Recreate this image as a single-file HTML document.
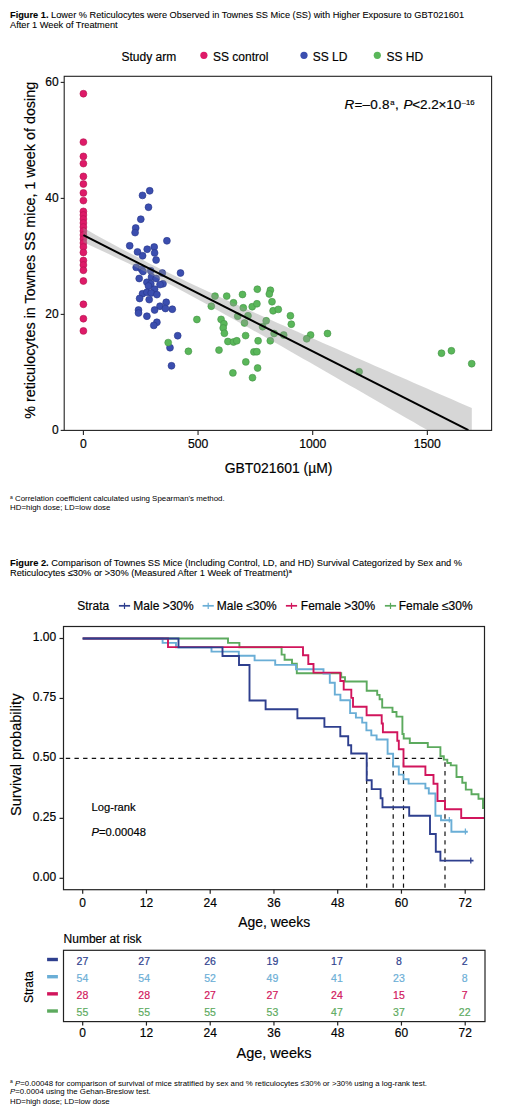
<!DOCTYPE html><html><head><meta charset="utf-8"><style>html,body{margin:0;padding:0;background:#fff;overflow:hidden;width:520px;height:1113px}svg{display:block}text{font-family:"Liberation Sans",sans-serif;fill:#000;stroke:#000;stroke-width:0.18px;paint-order:stroke}text.t{stroke-width:0.08px}text.f{stroke-width:0px}</style></head><body>
<svg width="520" height="1113" viewBox="0 0 520 1113">
<rect width="520" height="1113" fill="#fff"/>
<text class="t" x="10" y="18" font-size="9.24"><tspan font-weight="bold">Figure 1.</tspan> Lower % Reticulocytes were Observed in Townes SS Mice (SS) with Higher Exposure to GBT021601</text>
<text class="t" x="10" y="28.3" font-size="9.24">After 1 Week of Treatment</text>
<text x="121.5" y="61" font-size="12">Study arm</text>
<circle cx="203.9" cy="55.3" r="3.6" fill="#DE1A68"/>
<text x="213" y="61" font-size="12">SS control</text>
<circle cx="304" cy="55.3" r="3.6" fill="#3B4EAF"/>
<text x="312.7" y="61" font-size="12">SS LD</text>
<circle cx="377.3" cy="55.3" r="3.6" fill="#5AB75A"/>
<text x="386.5" y="61" font-size="12">SS HD</text>
<defs><clipPath id="c1"><rect x="64.2" y="76.3" width="427.4" height="354.1"/></clipPath></defs>
<circle cx="83.4" cy="93.7" r="3.45" fill="#DE1A68" stroke="#B3124F" stroke-width="0.6"/>
<circle cx="83.4" cy="142.1" r="3.45" fill="#DE1A68" stroke="#B3124F" stroke-width="0.6"/>
<circle cx="83.4" cy="156.4" r="3.45" fill="#DE1A68" stroke="#B3124F" stroke-width="0.6"/>
<circle cx="83.4" cy="163.6" r="3.45" fill="#DE1A68" stroke="#B3124F" stroke-width="0.6"/>
<circle cx="83.4" cy="176.4" r="3.45" fill="#DE1A68" stroke="#B3124F" stroke-width="0.6"/>
<circle cx="83.4" cy="184" r="3.45" fill="#DE1A68" stroke="#B3124F" stroke-width="0.6"/>
<circle cx="83.4" cy="192.9" r="3.45" fill="#DE1A68" stroke="#B3124F" stroke-width="0.6"/>
<circle cx="83.4" cy="200.6" r="3.45" fill="#DE1A68" stroke="#B3124F" stroke-width="0.6"/>
<circle cx="83.4" cy="211.4" r="3.45" fill="#DE1A68" stroke="#B3124F" stroke-width="0.6"/>
<circle cx="83.4" cy="215" r="3.45" fill="#DE1A68" stroke="#B3124F" stroke-width="0.6"/>
<circle cx="83.4" cy="219" r="3.45" fill="#DE1A68" stroke="#B3124F" stroke-width="0.6"/>
<circle cx="83.4" cy="223" r="3.45" fill="#DE1A68" stroke="#B3124F" stroke-width="0.6"/>
<circle cx="83.4" cy="227" r="3.45" fill="#DE1A68" stroke="#B3124F" stroke-width="0.6"/>
<circle cx="83.4" cy="231" r="3.45" fill="#DE1A68" stroke="#B3124F" stroke-width="0.6"/>
<circle cx="83.4" cy="235" r="3.45" fill="#DE1A68" stroke="#B3124F" stroke-width="0.6"/>
<circle cx="83.4" cy="239" r="3.45" fill="#DE1A68" stroke="#B3124F" stroke-width="0.6"/>
<circle cx="83.4" cy="243" r="3.45" fill="#DE1A68" stroke="#B3124F" stroke-width="0.6"/>
<circle cx="83.4" cy="247" r="3.45" fill="#DE1A68" stroke="#B3124F" stroke-width="0.6"/>
<circle cx="83.4" cy="252.5" r="3.45" fill="#DE1A68" stroke="#B3124F" stroke-width="0.6"/>
<circle cx="83.4" cy="260.5" r="3.45" fill="#DE1A68" stroke="#B3124F" stroke-width="0.6"/>
<circle cx="83.4" cy="265" r="3.45" fill="#DE1A68" stroke="#B3124F" stroke-width="0.6"/>
<circle cx="83.4" cy="270.3" r="3.45" fill="#DE1A68" stroke="#B3124F" stroke-width="0.6"/>
<circle cx="83.4" cy="281" r="3.45" fill="#DE1A68" stroke="#B3124F" stroke-width="0.6"/>
<circle cx="83.4" cy="304.3" r="3.45" fill="#DE1A68" stroke="#B3124F" stroke-width="0.6"/>
<circle cx="83.4" cy="318.7" r="3.45" fill="#DE1A68" stroke="#B3124F" stroke-width="0.6"/>
<circle cx="83.4" cy="330.9" r="3.45" fill="#DE1A68" stroke="#B3124F" stroke-width="0.6"/>
<circle cx="149.7" cy="190.8" r="3.45" fill="#3B4EAF" stroke="#27358A" stroke-width="0.6"/>
<circle cx="142.5" cy="195.4" r="3.45" fill="#3B4EAF" stroke="#27358A" stroke-width="0.6"/>
<circle cx="148.5" cy="207.2" r="3.45" fill="#3B4EAF" stroke="#27358A" stroke-width="0.6"/>
<circle cx="140.8" cy="219.2" r="3.45" fill="#3B4EAF" stroke="#27358A" stroke-width="0.6"/>
<circle cx="135.7" cy="228" r="3.45" fill="#3B4EAF" stroke="#27358A" stroke-width="0.6"/>
<circle cx="135.1" cy="232.6" r="3.45" fill="#3B4EAF" stroke="#27358A" stroke-width="0.6"/>
<circle cx="166.9" cy="240.8" r="3.45" fill="#3B4EAF" stroke="#27358A" stroke-width="0.6"/>
<circle cx="129.7" cy="245.8" r="3.45" fill="#3B4EAF" stroke="#27358A" stroke-width="0.6"/>
<circle cx="137.5" cy="251.9" r="3.45" fill="#3B4EAF" stroke="#27358A" stroke-width="0.6"/>
<circle cx="142.6" cy="255.8" r="3.45" fill="#3B4EAF" stroke="#27358A" stroke-width="0.6"/>
<circle cx="147.2" cy="249.2" r="3.45" fill="#3B4EAF" stroke="#27358A" stroke-width="0.6"/>
<circle cx="154.2" cy="247" r="3.45" fill="#3B4EAF" stroke="#27358A" stroke-width="0.6"/>
<circle cx="154.6" cy="253" r="3.45" fill="#3B4EAF" stroke="#27358A" stroke-width="0.6"/>
<circle cx="156.1" cy="260" r="3.45" fill="#3B4EAF" stroke="#27358A" stroke-width="0.6"/>
<circle cx="136.2" cy="267.4" r="3.45" fill="#3B4EAF" stroke="#27358A" stroke-width="0.6"/>
<circle cx="141.5" cy="269.2" r="3.45" fill="#3B4EAF" stroke="#27358A" stroke-width="0.6"/>
<circle cx="143" cy="271.5" r="3.45" fill="#3B4EAF" stroke="#27358A" stroke-width="0.6"/>
<circle cx="150.8" cy="270.8" r="3.45" fill="#3B4EAF" stroke="#27358A" stroke-width="0.6"/>
<circle cx="162.3" cy="273" r="3.45" fill="#3B4EAF" stroke="#27358A" stroke-width="0.6"/>
<circle cx="180.5" cy="273" r="3.45" fill="#3B4EAF" stroke="#27358A" stroke-width="0.6"/>
<circle cx="139.2" cy="278.5" r="3.45" fill="#3B4EAF" stroke="#27358A" stroke-width="0.6"/>
<circle cx="151.5" cy="277" r="3.45" fill="#3B4EAF" stroke="#27358A" stroke-width="0.6"/>
<circle cx="156.2" cy="278.5" r="3.45" fill="#3B4EAF" stroke="#27358A" stroke-width="0.6"/>
<circle cx="146.9" cy="282.3" r="3.45" fill="#3B4EAF" stroke="#27358A" stroke-width="0.6"/>
<circle cx="150.8" cy="283.8" r="3.45" fill="#3B4EAF" stroke="#27358A" stroke-width="0.6"/>
<circle cx="163" cy="283.8" r="3.45" fill="#3B4EAF" stroke="#27358A" stroke-width="0.6"/>
<circle cx="160" cy="284.6" r="3.45" fill="#3B4EAF" stroke="#27358A" stroke-width="0.6"/>
<circle cx="148.5" cy="286" r="3.45" fill="#3B4EAF" stroke="#27358A" stroke-width="0.6"/>
<circle cx="154.6" cy="289.2" r="3.45" fill="#3B4EAF" stroke="#27358A" stroke-width="0.6"/>
<circle cx="142.5" cy="293.8" r="3.45" fill="#3B4EAF" stroke="#27358A" stroke-width="0.6"/>
<circle cx="146.9" cy="292.3" r="3.45" fill="#3B4EAF" stroke="#27358A" stroke-width="0.6"/>
<circle cx="151.2" cy="293" r="3.45" fill="#3B4EAF" stroke="#27358A" stroke-width="0.6"/>
<circle cx="156.9" cy="294.6" r="3.45" fill="#3B4EAF" stroke="#27358A" stroke-width="0.6"/>
<circle cx="139.6" cy="298.5" r="3.45" fill="#3B4EAF" stroke="#27358A" stroke-width="0.6"/>
<circle cx="149.2" cy="299.6" r="3.45" fill="#3B4EAF" stroke="#27358A" stroke-width="0.6"/>
<circle cx="166.2" cy="302.3" r="3.45" fill="#3B4EAF" stroke="#27358A" stroke-width="0.6"/>
<circle cx="160" cy="306.2" r="3.45" fill="#3B4EAF" stroke="#27358A" stroke-width="0.6"/>
<circle cx="165.4" cy="308.5" r="3.45" fill="#3B4EAF" stroke="#27358A" stroke-width="0.6"/>
<circle cx="172.3" cy="309.2" r="3.45" fill="#3B4EAF" stroke="#27358A" stroke-width="0.6"/>
<circle cx="154.6" cy="310" r="3.45" fill="#3B4EAF" stroke="#27358A" stroke-width="0.6"/>
<circle cx="138.5" cy="310" r="3.45" fill="#3B4EAF" stroke="#27358A" stroke-width="0.6"/>
<circle cx="138.5" cy="313" r="3.45" fill="#3B4EAF" stroke="#27358A" stroke-width="0.6"/>
<circle cx="146.9" cy="316.2" r="3.45" fill="#3B4EAF" stroke="#27358A" stroke-width="0.6"/>
<circle cx="156.9" cy="322.3" r="3.45" fill="#3B4EAF" stroke="#27358A" stroke-width="0.6"/>
<circle cx="153.8" cy="325.4" r="3.45" fill="#3B4EAF" stroke="#27358A" stroke-width="0.6"/>
<circle cx="177.7" cy="335.7" r="3.45" fill="#3B4EAF" stroke="#27358A" stroke-width="0.6"/>
<circle cx="170" cy="347.7" r="3.45" fill="#3B4EAF" stroke="#27358A" stroke-width="0.6"/>
<circle cx="171.5" cy="365.8" r="3.45" fill="#3B4EAF" stroke="#27358A" stroke-width="0.6"/>
<circle cx="168.2" cy="342.6" r="3.45" fill="#5AB75A" stroke="#449246" stroke-width="0.6"/>
<circle cx="188.4" cy="351.3" r="3.45" fill="#5AB75A" stroke="#449246" stroke-width="0.6"/>
<circle cx="196.9" cy="319.5" r="3.45" fill="#5AB75A" stroke="#449246" stroke-width="0.6"/>
<circle cx="215" cy="296.1" r="3.45" fill="#5AB75A" stroke="#449246" stroke-width="0.6"/>
<circle cx="226.7" cy="296.1" r="3.45" fill="#5AB75A" stroke="#449246" stroke-width="0.6"/>
<circle cx="242.5" cy="294.5" r="3.45" fill="#5AB75A" stroke="#449246" stroke-width="0.6"/>
<circle cx="257.3" cy="289.2" r="3.45" fill="#5AB75A" stroke="#449246" stroke-width="0.6"/>
<circle cx="270.4" cy="290.2" r="3.45" fill="#5AB75A" stroke="#449246" stroke-width="0.6"/>
<circle cx="269.3" cy="294" r="3.45" fill="#5AB75A" stroke="#449246" stroke-width="0.6"/>
<circle cx="211.3" cy="306.2" r="3.45" fill="#5AB75A" stroke="#449246" stroke-width="0.6"/>
<circle cx="233.5" cy="302.8" r="3.45" fill="#5AB75A" stroke="#449246" stroke-width="0.6"/>
<circle cx="243.3" cy="307.8" r="3.45" fill="#5AB75A" stroke="#449246" stroke-width="0.6"/>
<circle cx="252.2" cy="306.7" r="3.45" fill="#5AB75A" stroke="#449246" stroke-width="0.6"/>
<circle cx="256.9" cy="303.8" r="3.45" fill="#5AB75A" stroke="#449246" stroke-width="0.6"/>
<circle cx="272" cy="301.7" r="3.45" fill="#5AB75A" stroke="#449246" stroke-width="0.6"/>
<circle cx="273.1" cy="310.8" r="3.45" fill="#5AB75A" stroke="#449246" stroke-width="0.6"/>
<circle cx="278.3" cy="309.4" r="3.45" fill="#5AB75A" stroke="#449246" stroke-width="0.6"/>
<circle cx="221.1" cy="319.4" r="3.45" fill="#5AB75A" stroke="#449246" stroke-width="0.6"/>
<circle cx="223.9" cy="323.8" r="3.45" fill="#5AB75A" stroke="#449246" stroke-width="0.6"/>
<circle cx="223.2" cy="328" r="3.45" fill="#5AB75A" stroke="#449246" stroke-width="0.6"/>
<circle cx="224.4" cy="333.3" r="3.45" fill="#5AB75A" stroke="#449246" stroke-width="0.6"/>
<circle cx="237.7" cy="316.2" r="3.45" fill="#5AB75A" stroke="#449246" stroke-width="0.6"/>
<circle cx="248" cy="315.8" r="3.45" fill="#5AB75A" stroke="#449246" stroke-width="0.6"/>
<circle cx="244.5" cy="323" r="3.45" fill="#5AB75A" stroke="#449246" stroke-width="0.6"/>
<circle cx="266.2" cy="320.8" r="3.45" fill="#5AB75A" stroke="#449246" stroke-width="0.6"/>
<circle cx="262.6" cy="326.7" r="3.45" fill="#5AB75A" stroke="#449246" stroke-width="0.6"/>
<circle cx="274.1" cy="333.5" r="3.45" fill="#5AB75A" stroke="#449246" stroke-width="0.6"/>
<circle cx="245.6" cy="335.6" r="3.45" fill="#5AB75A" stroke="#449246" stroke-width="0.6"/>
<circle cx="227.9" cy="341.5" r="3.45" fill="#5AB75A" stroke="#449246" stroke-width="0.6"/>
<circle cx="233.5" cy="342" r="3.45" fill="#5AB75A" stroke="#449246" stroke-width="0.6"/>
<circle cx="236.8" cy="340.8" r="3.45" fill="#5AB75A" stroke="#449246" stroke-width="0.6"/>
<circle cx="258.1" cy="340.8" r="3.45" fill="#5AB75A" stroke="#449246" stroke-width="0.6"/>
<circle cx="270.3" cy="340.8" r="3.45" fill="#5AB75A" stroke="#449246" stroke-width="0.6"/>
<circle cx="219" cy="350.1" r="3.45" fill="#5AB75A" stroke="#449246" stroke-width="0.6"/>
<circle cx="253.9" cy="351.9" r="3.45" fill="#5AB75A" stroke="#449246" stroke-width="0.6"/>
<circle cx="256.9" cy="351.7" r="3.45" fill="#5AB75A" stroke="#449246" stroke-width="0.6"/>
<circle cx="245.8" cy="361.9" r="3.45" fill="#5AB75A" stroke="#449246" stroke-width="0.6"/>
<circle cx="257.6" cy="368" r="3.45" fill="#5AB75A" stroke="#449246" stroke-width="0.6"/>
<circle cx="232.9" cy="372.9" r="3.45" fill="#5AB75A" stroke="#449246" stroke-width="0.6"/>
<circle cx="252.5" cy="377.7" r="3.45" fill="#5AB75A" stroke="#449246" stroke-width="0.6"/>
<circle cx="290.4" cy="315.8" r="3.45" fill="#5AB75A" stroke="#449246" stroke-width="0.6"/>
<circle cx="291.3" cy="324.2" r="3.45" fill="#5AB75A" stroke="#449246" stroke-width="0.6"/>
<circle cx="283.7" cy="335" r="3.45" fill="#5AB75A" stroke="#449246" stroke-width="0.6"/>
<circle cx="310.6" cy="335" r="3.45" fill="#5AB75A" stroke="#449246" stroke-width="0.6"/>
<circle cx="306.7" cy="338.8" r="3.45" fill="#5AB75A" stroke="#449246" stroke-width="0.6"/>
<circle cx="327.5" cy="333.5" r="3.45" fill="#5AB75A" stroke="#449246" stroke-width="0.6"/>
<circle cx="359.1" cy="371.7" r="3.45" fill="#5AB75A" stroke="#449246" stroke-width="0.6"/>
<circle cx="441.5" cy="353.2" r="3.45" fill="#5AB75A" stroke="#449246" stroke-width="0.6"/>
<circle cx="451.4" cy="350.8" r="3.45" fill="#5AB75A" stroke="#449246" stroke-width="0.6"/>
<circle cx="471.7" cy="363.7" r="3.45" fill="#5AB75A" stroke="#449246" stroke-width="0.6"/>
<g clip-path="url(#c1)">
<polygon fill="#999999" fill-opacity="0.4" points="83.4,228.0 89.9,231.6 96.3,235.2 102.8,238.7 109.3,242.2 115.8,245.7 122.2,249.2 128.7,252.6 135.2,256.0 141.7,259.3 148.1,262.7 154.6,265.9 161.1,269.2 167.6,272.3 174.0,275.5 180.5,278.6 187.0,281.7 193.4,284.7 199.9,287.8 206.4,290.8 212.9,293.8 219.3,296.7 225.8,299.7 232.3,302.6 238.8,305.6 245.2,308.5 251.7,311.4 258.2,314.3 264.7,317.2 271.1,320.0 277.6,322.9 284.1,325.8 290.5,328.7 297.0,331.5 303.5,334.4 310.0,337.2 316.4,340.1 322.9,342.9 329.4,345.8 335.9,348.6 342.3,351.5 348.8,354.3 355.3,357.2 361.8,360.0 368.2,362.8 374.7,365.7 381.2,368.5 387.6,371.3 394.1,374.2 400.6,377.0 407.1,379.8 413.5,382.7 420.0,385.5 426.5,388.3 433.0,391.2 439.4,394.0 445.9,396.8 452.4,399.6 458.9,402.5 465.3,405.3 471.8,408.1 471.8,455.7 465.3,452.0 458.9,448.2 452.4,444.5 445.9,440.8 439.4,437.0 433.0,433.3 426.5,429.6 420.0,425.9 413.5,422.1 407.1,418.4 400.6,414.7 394.1,410.9 387.6,407.2 381.2,403.5 374.7,399.8 368.2,396.0 361.8,392.3 355.3,388.6 348.8,384.9 342.3,381.2 335.9,377.5 329.4,373.7 322.9,370.0 316.4,366.3 310.0,362.6 303.5,358.9 297.0,355.2 290.5,351.5 284.1,347.8 277.6,344.1 271.1,340.5 264.7,336.8 258.2,333.1 251.7,329.5 245.2,325.8 238.8,322.2 232.3,318.5 225.8,314.9 219.3,311.3 212.9,307.7 206.4,304.1 199.9,300.6 193.4,297.0 187.0,293.5 180.5,290.1 174.0,286.6 167.6,283.2 161.1,279.9 154.6,276.5 148.1,273.2 141.7,270.0 135.2,266.8 128.7,263.6 122.2,260.5 115.8,257.4 109.3,254.3 102.8,251.3 96.3,248.3 89.9,245.3 83.4,242.3"/>
</g>
<line x1="83.4" y1="235.2" x2="468.4" y2="430.2" stroke="#000" stroke-width="2"/>
<rect x="64.2" y="76.3" width="427.40000000000003" height="354.09999999999997" fill="none" stroke="#222" stroke-width="1.1"/>
<line x1="60.7" y1="430.4" x2="64.2" y2="430.4" stroke="#222" stroke-width="1.1"/>
<text x="58.6" y="434.4" font-size="12" text-anchor="end">0</text>
<line x1="60.7" y1="314.4" x2="64.2" y2="314.4" stroke="#222" stroke-width="1.1"/>
<text x="58.6" y="318.4" font-size="12" text-anchor="end">20</text>
<line x1="60.7" y1="198.39999999999998" x2="64.2" y2="198.39999999999998" stroke="#222" stroke-width="1.1"/>
<text x="58.6" y="202.39999999999998" font-size="12" text-anchor="end">40</text>
<line x1="60.7" y1="82.39999999999998" x2="64.2" y2="82.39999999999998" stroke="#222" stroke-width="1.1"/>
<text x="58.6" y="86.39999999999998" font-size="12" text-anchor="end">60</text>
<line x1="83.4" y1="430.4" x2="83.4" y2="435.09999999999997" stroke="#222" stroke-width="1.1"/>
<text x="83.4" y="447.8" font-size="12.2" text-anchor="middle">0</text>
<line x1="198.05" y1="430.4" x2="198.05" y2="435.09999999999997" stroke="#222" stroke-width="1.1"/>
<text x="198.05" y="447.8" font-size="12.2" text-anchor="middle">500</text>
<line x1="312.70000000000005" y1="430.4" x2="312.70000000000005" y2="435.09999999999997" stroke="#222" stroke-width="1.1"/>
<text x="312.70000000000005" y="447.8" font-size="12.2" text-anchor="middle">1000</text>
<line x1="427.35" y1="430.4" x2="427.35" y2="435.09999999999997" stroke="#222" stroke-width="1.1"/>
<text x="427.35" y="447.8" font-size="12.2" text-anchor="middle">1500</text>
<text x="278.6" y="472.9" font-size="13.9" text-anchor="middle">GBT021601 (µM)</text>
<text transform="translate(34.8,250.3) rotate(-90)" font-size="14.35" text-anchor="middle">% reticulocytes in Townes SS mice, 1 week of dosing</text>
<text x="344.4" y="109" font-size="13.5" letter-spacing="0.25"><tspan font-style="italic">R</tspan>=–0.8</text>
<text x="390.2" y="104.5" font-size="7.7">a</text>
<text x="395" y="109" font-size="13.5">,</text>
<text x="403.4" y="109" font-size="13.5" letter-spacing="-0.1"><tspan font-style="italic">P</tspan>&lt;2.2×10</text>
<text x="461.8" y="104.5" font-size="7.7">–16</text>
<text class="f" x="10" y="501" font-size="7.9"><tspan font-size="5" dy="-2.5">a</tspan><tspan dy="2.5"> Correlation coefficient calculated using Spearman's method.</tspan></text>
<text class="f" x="10" y="510" font-size="7.9">HD=high dose; LD=low dose</text>
<text class="t" x="10" y="565.8" font-size="9.27"><tspan font-weight="bold">Figure 2.</tspan> Comparison of Townes SS Mice (Including Control, LD, and HD) Survival Categorized by Sex and %</text>
<text class="t" x="10" y="575.8" font-size="9.27">Reticulocytes ≤30% or &gt;30% (Measured After 1 Week of Treatment)<tspan font-size="5.5" dy="-3">a</tspan></text>
<text x="77.2" y="609.8" font-size="12">Strata</text>
<line x1="118.9" y1="605.8" x2="130.1" y2="605.8" stroke="#2E3F8E" stroke-width="1.7"/>
<line x1="124.5" y1="602.8" x2="124.5" y2="609" stroke="#2E3F8E" stroke-width="1.2"/>
<text x="133.3" y="609.8" font-size="12">Male &gt;30%</text>
<line x1="202.6" y1="605.8" x2="213.79999999999998" y2="605.8" stroke="#6AAED6" stroke-width="1.7"/>
<line x1="208.2" y1="602.8" x2="208.2" y2="609" stroke="#6AAED6" stroke-width="1.2"/>
<text x="216.8" y="609.8" font-size="12">Male ≤30%</text>
<line x1="285.9" y1="605.8" x2="297.1" y2="605.8" stroke="#D1155C" stroke-width="1.7"/>
<line x1="291.5" y1="602.8" x2="291.5" y2="609" stroke="#D1155C" stroke-width="1.2"/>
<text x="300.8" y="609.8" font-size="12">Female &gt;30%</text>
<line x1="384.9" y1="605.8" x2="396.1" y2="605.8" stroke="#5CAA5E" stroke-width="1.7"/>
<line x1="390.5" y1="602.8" x2="390.5" y2="609" stroke="#5CAA5E" stroke-width="1.2"/>
<text x="398.7" y="609.8" font-size="12">Female ≤30%</text>
<line x1="63.5" y1="758.3" x2="445" y2="758.3" stroke="#111" stroke-width="1.2" stroke-dasharray="4.4,4.25" stroke-dashoffset="6.35"/>
<line x1="366.7" y1="758.3" x2="366.7" y2="889.7" stroke="#111" stroke-width="1.2" stroke-dasharray="4.4,4.25" stroke-dashoffset="4.6"/>
<line x1="393.2" y1="758.3" x2="393.2" y2="889.7" stroke="#111" stroke-width="1.2" stroke-dasharray="4.4,4.25" stroke-dashoffset="4.6"/>
<line x1="403.5" y1="758.3" x2="403.5" y2="889.7" stroke="#111" stroke-width="1.2" stroke-dasharray="4.4,4.25" stroke-dashoffset="4.6"/>
<line x1="445" y1="758.3" x2="445" y2="889.7" stroke="#111" stroke-width="1.2" stroke-dasharray="4.4,4.25" stroke-dashoffset="4.6"/>
<defs><clipPath id="c2"><rect x="63.5" y="626.5" width="421.0" height="263.2"/></clipPath></defs>
<g clip-path="url(#c2)" fill="none" stroke-width="1.9" stroke-linejoin="miter" stroke-linecap="butt">
<path d="M82.7,638.5 H228.0 V642.9 H239.4 V647.2 H281.6 V654.6 H284.6 V659.8 H292.0 V663.8 H296.8 V673.2 H341.2 V677.2 H345.0 V681.5 H366.7 V690.8 H377.2 V694.9 H379.6 V699.2 H382.2 V707.6 H392.5 V712.0 H396.5 V716.6 H402.4 V734.0 H403.7 V738.5 H409.8 V743.0 H427.8 V747.1 H440.4 V756.2 H443.8 V759.6 H447.3 V763.0 H450.8 V765.4 H456.5 V777.0 H462.3 V782.7 H465.8 V789.6 H471.5 V794.2 H478.5 V798.8 H483.0 V808.0 H486.0" stroke="#5CAA5E"/>
<path d="M82.7,638.5 H162.6 V642.9 H176.0 V647.4 H211.5 V651.6 H238.8 V655.8 H254.6 V660.4 H275.2 V664.9 H296.0 V669.3 H323.5 V673.6 H329.8 V682.7 H334.8 V694.6 H340.4 V700.2 H350.1 V713.1 H355.9 V717.6 H362.2 V722.6 H366.4 V730.4 H371.3 V735.4 H376.6 V739.5 H387.6 V753.8 H393.1 V766.5 H398.8 V774.6 H403.5 V779.2 H408.6 V783.6 H425.4 V788.2 H428.8 V793.5 H435.4 V815.8 H441.0 V820.2 H451.4 V831.8 H467.8" stroke="#6AAED6"/>
<path d="M82.7,638.5 H168.0 V647.1 H303.0 V655.2 H308.3 V664.0 H313.5 V672.6 H340.3 V681.0 H343.7 V689.6 H351.3 V697.9 H353.0 V706.7 H366.6 V715.2 H381.7 V723.5 H382.9 V732.2 H397.3 V740.8 H398.8 V749.2 H403.5 V766.5 H425.4 V775.0 H433.5 V783.7 H437.5 V801.0 H445.0 V809.3 H461.2 V818.0 H486.0" stroke="#D1155C"/>
<path d="M82.7,638.5 H178.5 V647.4 H222.5 V656.0 H239.0 V665.0 H249.5 V700.5 H265.6 V709.2 H297.4 V718.3 H324.4 V726.9 H340.3 V736.2 H348.2 V745.2 H351.2 V753.5 H366.7 V780.2 H371.7 V789.1 H380.6 V798.2 H382.5 V807.2 H409.2 V815.8 H430.0 V834.0 H435.8 V851.7 H440.4 V860.6 H473.5" stroke="#2E3F8E"/>
<line x1="465.4" y1="828.4" x2="465.4" y2="834.6" stroke="#6AAED6" stroke-width="1.3"/>
<line x1="449.3" y1="817" x2="449.3" y2="822.5" stroke="#6AAED6" stroke-width="1.2"/>
<line x1="470.8" y1="857.4" x2="470.8" y2="863.6" stroke="#2E3F8E" stroke-width="1.3"/>
</g>
<rect x="63.5" y="626.5" width="421.0" height="263.20000000000005" fill="none" stroke="#222" stroke-width="1.2"/>
<line x1="59.5" y1="638.5" x2="63.5" y2="638.5" stroke="#222" stroke-width="1.2"/>
<text x="56.2" y="641.4" font-size="12" text-anchor="end">1.00</text>
<line x1="59.5" y1="698.4499999999999" x2="63.5" y2="698.4499999999999" stroke="#222" stroke-width="1.2"/>
<text x="56.2" y="701.3499999999999" font-size="12" text-anchor="end">0.75</text>
<line x1="59.5" y1="758.4" x2="63.5" y2="758.4" stroke="#222" stroke-width="1.2"/>
<text x="56.2" y="761.3" font-size="12" text-anchor="end">0.50</text>
<line x1="59.5" y1="818.3499999999999" x2="63.5" y2="818.3499999999999" stroke="#222" stroke-width="1.2"/>
<text x="56.2" y="821.2499999999999" font-size="12" text-anchor="end">0.25</text>
<line x1="59.5" y1="878.3" x2="63.5" y2="878.3" stroke="#222" stroke-width="1.2"/>
<text x="56.2" y="881.1999999999999" font-size="12" text-anchor="end">0.00</text>
<line x1="82.7" y1="889.7" x2="82.7" y2="893.7" stroke="#222" stroke-width="1.2"/>
<text x="82.7" y="907" font-size="12" text-anchor="middle">0</text>
<line x1="146.45" y1="889.7" x2="146.45" y2="893.7" stroke="#222" stroke-width="1.2"/>
<text x="146.45" y="907" font-size="12" text-anchor="middle">12</text>
<line x1="210.2" y1="889.7" x2="210.2" y2="893.7" stroke="#222" stroke-width="1.2"/>
<text x="210.2" y="907" font-size="12" text-anchor="middle">24</text>
<line x1="273.95" y1="889.7" x2="273.95" y2="893.7" stroke="#222" stroke-width="1.2"/>
<text x="273.95" y="907" font-size="12" text-anchor="middle">36</text>
<line x1="337.7" y1="889.7" x2="337.7" y2="893.7" stroke="#222" stroke-width="1.2"/>
<text x="337.7" y="907" font-size="12" text-anchor="middle">48</text>
<line x1="401.45" y1="889.7" x2="401.45" y2="893.7" stroke="#222" stroke-width="1.2"/>
<text x="401.45" y="907" font-size="12" text-anchor="middle">60</text>
<line x1="465.2" y1="889.7" x2="465.2" y2="893.7" stroke="#222" stroke-width="1.2"/>
<text x="465.2" y="907" font-size="12" text-anchor="middle">72</text>
<text x="274.2" y="927.3" font-size="13.9" text-anchor="middle">Age, weeks</text>
<text transform="translate(21.2,754.8) rotate(-90)" font-size="14.6" text-anchor="middle">Survival probability</text>
<text x="91.5" y="811.4" font-size="11.2">Log-rank</text>
<text x="91.5" y="835.6" font-size="11.2"><tspan font-style="italic">P</tspan>=0.00048</text>
<text x="63.6" y="942.9" font-size="12">Number at risk</text>
<rect x="63.5" y="950.3" width="421.5" height="71.30000000000007" fill="none" stroke="#222" stroke-width="1.2"/>
<line x1="47.1" y1="959.5" x2="57.9" y2="959.5" stroke="#2E3F8E" stroke-width="3.4"/>
<text x="82.4" y="964.5" font-size="10.5" text-anchor="middle" style="fill:#2E3F8E;stroke:#2E3F8E">27</text>
<text x="144.2" y="964.5" font-size="10.5" text-anchor="middle" style="fill:#2E3F8E;stroke:#2E3F8E">27</text>
<text x="210.1" y="964.5" font-size="10.5" text-anchor="middle" style="fill:#2E3F8E;stroke:#2E3F8E">26</text>
<text x="272.4" y="964.5" font-size="10.5" text-anchor="middle" style="fill:#2E3F8E;stroke:#2E3F8E">19</text>
<text x="336.9" y="964.5" font-size="10.5" text-anchor="middle" style="fill:#2E3F8E;stroke:#2E3F8E">17</text>
<text x="398.9" y="964.5" font-size="10.5" text-anchor="middle" style="fill:#2E3F8E;stroke:#2E3F8E">8</text>
<text x="464.7" y="964.5" font-size="10.5" text-anchor="middle" style="fill:#2E3F8E;stroke:#2E3F8E">2</text>
<line x1="47.1" y1="976.7" x2="57.9" y2="976.7" stroke="#6AAED6" stroke-width="3.4"/>
<text x="82.4" y="981.7" font-size="10.5" text-anchor="middle" style="fill:#6AAED6;stroke:#6AAED6">54</text>
<text x="144.2" y="981.7" font-size="10.5" text-anchor="middle" style="fill:#6AAED6;stroke:#6AAED6">54</text>
<text x="210.1" y="981.7" font-size="10.5" text-anchor="middle" style="fill:#6AAED6;stroke:#6AAED6">52</text>
<text x="272.4" y="981.7" font-size="10.5" text-anchor="middle" style="fill:#6AAED6;stroke:#6AAED6">49</text>
<text x="336.9" y="981.7" font-size="10.5" text-anchor="middle" style="fill:#6AAED6;stroke:#6AAED6">41</text>
<text x="398.9" y="981.7" font-size="10.5" text-anchor="middle" style="fill:#6AAED6;stroke:#6AAED6">23</text>
<text x="464.7" y="981.7" font-size="10.5" text-anchor="middle" style="fill:#6AAED6;stroke:#6AAED6">8</text>
<line x1="47.1" y1="993.85" x2="57.9" y2="993.85" stroke="#D1155C" stroke-width="3.4"/>
<text x="82.4" y="998.85" font-size="10.5" text-anchor="middle" style="fill:#D1155C;stroke:#D1155C">28</text>
<text x="144.2" y="998.85" font-size="10.5" text-anchor="middle" style="fill:#D1155C;stroke:#D1155C">28</text>
<text x="210.1" y="998.85" font-size="10.5" text-anchor="middle" style="fill:#D1155C;stroke:#D1155C">27</text>
<text x="272.4" y="998.85" font-size="10.5" text-anchor="middle" style="fill:#D1155C;stroke:#D1155C">27</text>
<text x="336.9" y="998.85" font-size="10.5" text-anchor="middle" style="fill:#D1155C;stroke:#D1155C">24</text>
<text x="398.9" y="998.85" font-size="10.5" text-anchor="middle" style="fill:#D1155C;stroke:#D1155C">15</text>
<text x="464.7" y="998.85" font-size="10.5" text-anchor="middle" style="fill:#D1155C;stroke:#D1155C">7</text>
<line x1="47.1" y1="1011.0" x2="57.9" y2="1011.0" stroke="#5CAA5E" stroke-width="3.4"/>
<text x="82.4" y="1016.0" font-size="10.5" text-anchor="middle" style="fill:#5CAA5E;stroke:#5CAA5E">55</text>
<text x="144.2" y="1016.0" font-size="10.5" text-anchor="middle" style="fill:#5CAA5E;stroke:#5CAA5E">55</text>
<text x="210.1" y="1016.0" font-size="10.5" text-anchor="middle" style="fill:#5CAA5E;stroke:#5CAA5E">55</text>
<text x="272.4" y="1016.0" font-size="10.5" text-anchor="middle" style="fill:#5CAA5E;stroke:#5CAA5E">53</text>
<text x="336.9" y="1016.0" font-size="10.5" text-anchor="middle" style="fill:#5CAA5E;stroke:#5CAA5E">47</text>
<text x="398.9" y="1016.0" font-size="10.5" text-anchor="middle" style="fill:#5CAA5E;stroke:#5CAA5E">37</text>
<text x="464.7" y="1016.0" font-size="10.5" text-anchor="middle" style="fill:#5CAA5E;stroke:#5CAA5E">22</text>
<text transform="translate(33.3,987) rotate(-90)" font-size="12" text-anchor="middle">Strata</text>
<line x1="82.7" y1="1021.6" x2="82.7" y2="1025.6" stroke="#222" stroke-width="1.2"/>
<text x="82.7" y="1037.2" font-size="12" text-anchor="middle">0</text>
<line x1="146.45" y1="1021.6" x2="146.45" y2="1025.6" stroke="#222" stroke-width="1.2"/>
<text x="146.45" y="1037.2" font-size="12" text-anchor="middle">12</text>
<line x1="210.2" y1="1021.6" x2="210.2" y2="1025.6" stroke="#222" stroke-width="1.2"/>
<text x="210.2" y="1037.2" font-size="12" text-anchor="middle">24</text>
<line x1="273.95" y1="1021.6" x2="273.95" y2="1025.6" stroke="#222" stroke-width="1.2"/>
<text x="273.95" y="1037.2" font-size="12" text-anchor="middle">36</text>
<line x1="337.7" y1="1021.6" x2="337.7" y2="1025.6" stroke="#222" stroke-width="1.2"/>
<text x="337.7" y="1037.2" font-size="12" text-anchor="middle">48</text>
<line x1="401.45" y1="1021.6" x2="401.45" y2="1025.6" stroke="#222" stroke-width="1.2"/>
<text x="401.45" y="1037.2" font-size="12" text-anchor="middle">60</text>
<line x1="465.2" y1="1021.6" x2="465.2" y2="1025.6" stroke="#222" stroke-width="1.2"/>
<text x="465.2" y="1037.2" font-size="12" text-anchor="middle">72</text>
<text x="274" y="1057.7" font-size="14.5" text-anchor="middle">Age, weeks</text>
<text class="f" x="10" y="1085.8" font-size="7.83"><tspan font-size="5" dy="-2.5">a</tspan><tspan dy="2.5"> </tspan><tspan font-style="italic">P</tspan>=0.00048 for comparison of survival of mice stratified by sex and % reticulocytes ≤30% or &gt;30% using a log-rank test.</text>
<text class="f" x="10" y="1094.2" font-size="7.83"><tspan font-style="italic">P</tspan>=0.0004 using the Gehan-Breslow test.</text>
<text class="f" x="10" y="1103.6" font-size="7.83">HD=high dose; LD=low dose</text>
</svg></body></html>
